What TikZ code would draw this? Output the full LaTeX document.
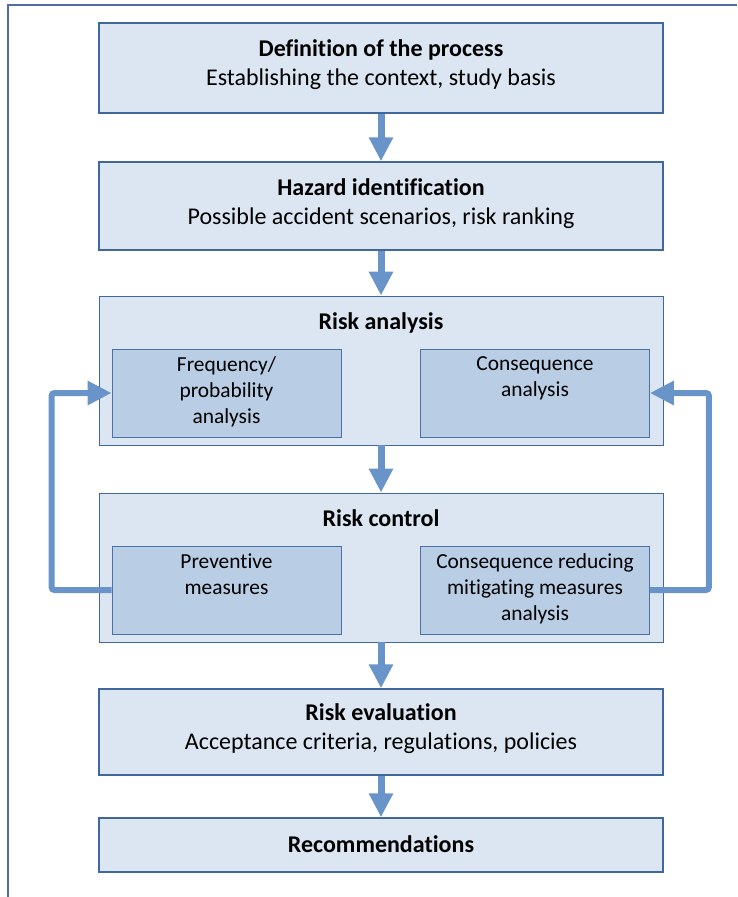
\documentclass[tikz,border=0pt]{standalone}
\usepackage{fontspec}
\setmainfont{Carlito}[Ligatures=NoCommon]
\usetikzlibrary{arrows.meta}
\definecolor{boxfill}{HTML}{DCE6F2}
\definecolor{boxline}{HTML}{41689C}
\definecolor{innerfill}{HTML}{B9CDE5}
\definecolor{innerline}{HTML}{4A72A8}
\definecolor{arrowcol}{HTML}{6994CA}
\definecolor{framecol}{HTML}{4F6D9F}
\tikzset{
  mainbox/.style={draw=boxline, fill=boxfill, line width=1.5pt, minimum width=564pt, inner sep=0pt},
  maintext/.style={align=center, inner sep=0pt, font=\fontsize{24}{29}\selectfont},
  groupbox/.style={draw=boxline, fill=boxfill, line width=0.9pt, minimum width=564pt, minimum height=149pt, inner sep=0pt},
  innerbox/.style={draw=innerline, fill=innerfill, line width=0.9pt, minimum width=229pt, minimum height=88pt, inner sep=0pt},
  innertext/.style={anchor=north, align=center, inner sep=0pt, font=\fontsize{21.4}{26}\selectfont},
  grouptitle/.style={anchor=north, inner sep=0pt, font=\fontsize{24}{29}\selectfont\bfseries},
  downarrow/.style={draw=arrowcol, line width=7pt, -{Triangle[width=23pt,length=24pt]}},
  fbarrow/.style={draw=arrowcol, line width=6pt, rounded corners=3pt, -{Triangle[width=23pt,length=24pt]}},
}
\begin{document}
\begin{tikzpicture}[x=1pt,y=-1pt]
\useasboundingbox (0,0) rectangle (737,897);
% frame
\draw[framecol, line width=1.5pt] (8,897) -- (8,5) -- (737,5);
% main boxes
\node[mainbox, minimum height=90pt] (def) at (381,68) {};
\node[maintext] (deft) at ([yshift=3pt]def.center) {\textbf{Definition of the process}\\Establishing the context, study basis};
\node[mainbox, minimum height=88pt] (haz) at (381,206) {};
\node[maintext] (hazt) at ([yshift=2.5pt]haz.center) {\textbf{Hazard identification}\\Possible accident scenarios, risk ranking};
\node[groupbox] (ra) at (381,370.5) {};
\node[grouptitle] (ratitle) at ([yshift=-16.5pt]ra.north) {Risk analysis};
\node[innerbox] (freq) at (226.5,393) {};
\node[innerbox] (cons) at (535,393) {};
\node[innertext] (freqt) at ([yshift=-8pt]freq.north) {Frequency/\\probability\\analysis};
\node[innertext] (const) at ([yshift=-8pt]cons.north) {Consequence\\analysis};
\node[groupbox] (rc) at (381,567.5) {};
\node[grouptitle] (rctitle) at ([yshift=-17pt]rc.north) {Risk control};
\node[innerbox] (prev) at (226.5,590) {};
\node[innerbox] (mit) at (535,590) {};
\node[innertext] (prevt) at ([yshift=-8pt]prev.north) {Preventive\\measures};
\node[innertext] (mitt) at ([yshift=-8pt]mit.north) {Consequence reducing\\mitigating measures\\analysis};
\node[mainbox, minimum height=86pt] (eval) at (381,732) {};
\node[maintext] (evalt) at ([yshift=3.5pt]eval.center) {\textbf{Risk evaluation}\\Acceptance criteria, regulations, policies};
\node[mainbox, minimum height=54pt] (rec) at (381,845) {};
\node[maintext] (rect) at ([yshift=1pt]rec.center) {\textbf{Recommendations}};
% arrows
\draw[downarrow] (def.south) -- (haz.north);
\draw[downarrow] (haz.south) -- (ra.north);
\draw[downarrow] (ra.south) -- (rc.north);
\draw[downarrow] (rc.south) -- (eval.north);
\draw[downarrow] (eval.south) -- (rec.north);
\draw[fbarrow] (prev.west) -- ++(-60,0) |- (freq.west);
\draw[fbarrow] (mit.east) -- ++(59,0) |- (cons.east);
\end{tikzpicture}
\end{document}
